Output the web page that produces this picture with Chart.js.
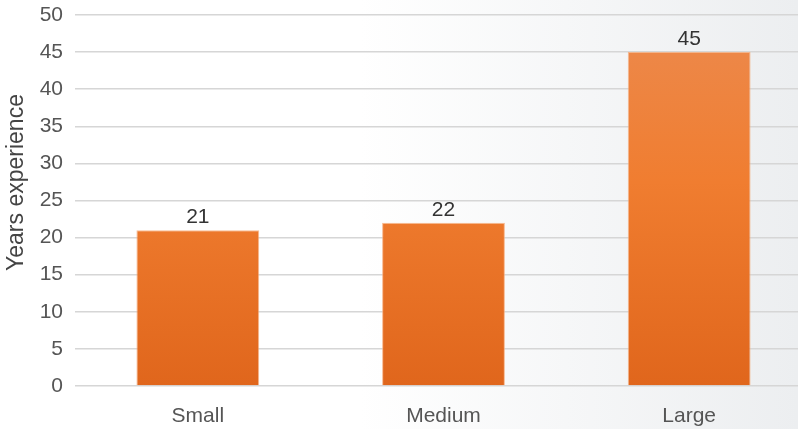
<!DOCTYPE html>
<html>
<head>
<meta charset="utf-8">
<script src="https://cdn.jsdelivr.net/npm/chart.js@4/dist/chart.umd.min.js"></script>
<style>
  html, body {
    margin: 0;
    padding: 0;
    overflow: hidden;
    width: 798px;
    height: 429px;
    background: linear-gradient(to right, #ffffff 0%, #ffffff 45%, #eceef0 100%);
  }
  #wrap {
    position: relative;
    width: 812px;
    height: 429px;
  }
</style>
</head>
<body>
<div id="wrap"><canvas id="bar"></canvas></div>
<script>
// data
const categories = ["Small", "Medium", "Large"];
const years = [21, 22, 45];
const yTicks = [0, 5, 10, 15, 20, 25, 30, 35, 40, 45, 50];
const yTitle = "Years experience";

// colors
const labelGrey = "#555555";
const valueGrey = "#333333";
const grid = "#d6d6d6";
const font = "'Liberation Sans', Arial, Helvetica, sans-serif";

function barFill(context) {
  const chart = context.chart;
  const area = chart.chartArea;
  if (!area) return "#ef7a2e";
  const g = chart.ctx.createLinearGradient(0, area.top, 0, area.bottom);
  g.addColorStop(0, "#ec8a4e");
  g.addColorStop(0.45, "#f07d30");
  g.addColorStop(1, "#e0661c");
  return g;
}

// numbers above each bar
const valueLabels = {
  id: "valueLabels",
  afterDatasetsDraw(chart) {
    const ctx = chart.ctx;
    const meta = chart.getDatasetMeta(0);
    ctx.save();
    ctx.font = "21px " + font;
    ctx.fillStyle = valueGrey;
    ctx.textAlign = "center";
    ctx.textBaseline = "bottom";
    meta.data.forEach((bar, i) => {
      ctx.fillText(String(chart.data.datasets[0].data[i]), bar.x, bar.y - 2);
    });
    ctx.restore();
  },
};

// rotated y title, sits a little above the middle of the axis
const sideTitle = {
  id: "sideTitle",
  afterDraw(chart) {
    const ctx = chart.ctx;
    const area = chart.chartArea;
    ctx.save();
    ctx.translate(17, (area.top + area.bottom) / 2 - 18);
    ctx.rotate(-Math.PI / 2);
    ctx.font = "23px " + font;
    ctx.fillStyle = "#444444";
    ctx.textAlign = "center";
    ctx.textBaseline = "middle";
    ctx.fillText(yTitle, 0, 0);
    ctx.restore();
  },
};

const bar = new Chart(document.getElementById("bar"), {
  type: "bar",
  data: {
    labels: categories,
    datasets: [
      {
        label: yTitle,
        data: years,
        backgroundColor: barFill,
        borderColor: "rgba(246, 170, 120, 0.8)",
        borderWidth: 1,
        barPercentage: 0.5,
        categoryPercentage: 1,
      },
    ],
  },
  options: {
    responsive: true,
    maintainAspectRatio: false,
    animation: false,
    layout: {
      padding: { top: 15, left: 0, right: 0, bottom: 0 },
    },
    scales: {
      x: {
        grid: { display: false, drawTicks: false },
        border: { display: false },
        ticks: {
          color: labelGrey,
          font: { family: font, size: 21 },
          padding: 18,
        },
        afterFit: (scale) => {
          scale.height = 43;
        },
      },
      y: {
        min: 0,
        max: 50,
        afterBuildTicks: (scale) => {
          scale.ticks = yTicks.map((v) => ({ value: v }));
        },
        grid: { color: grid, lineWidth: 1.5, drawTicks: false },
        border: { display: false },
        ticks: {
          color: labelGrey,
          font: { family: font, size: 21 },
          padding: 12,
        },
        afterFit: (scale) => {
          scale.width = 75;
          scale.paddingTop = 0;
          scale.paddingBottom = 0;
        },
      },
    },
    plugins: {
      legend: { display: false },
      tooltip: { enabled: false },
    },
  },
  plugins: [valueLabels, sideTitle],
});
</script>
</body>
</html>
